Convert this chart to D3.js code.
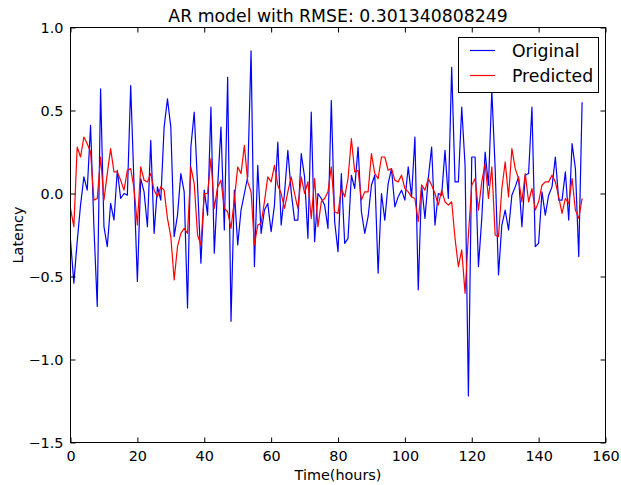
<!DOCTYPE html>
<html>
<head>
<meta charset="utf-8">
<script src="https://cdn.jsdelivr.net/npm/d3@7"></script>
<style>
  html, body { margin: 0; padding: 0; background: #ffffff; }
  svg { display: block; font-family: "DejaVu Sans", sans-serif; }
</style>
</head>
<body>
<svg id="chart" width="621" height="485"></svg>
<script>
// ---- data ----
const titleText = "AR model with RMSE: 0.301340808249";
const xLabel = "Time(hours)";
const yLabel = "Latency";
const seriesNames = ["Original", "Predicted"];
const xTicks = [0, 20, 40, 60, 80, 100, 120, 140, 160];
const yTicks = [1.0, 0.5, 0.0, -0.5, -1.0, -1.5];
const yTickLabels = ["1.0", "0.5", "0.0", "\u22120.5", "\u22121.0", "\u22121.5"];

const original = [
  -0.28, -0.54, -0.29, -0.07, 0.10, 0.02, 0.41, -0.20, -0.68, 0.63,
  -0.20, -0.32, -0.06, -0.16, 0.14, -0.03, 0.00, -0.01, 0.65, 0.05,
  -0.53, 0.09, 0.01, -0.20, 0.32, -0.24, 0.04, -0.04, 0.40, 0.57,
  0.40, -0.26, -0.13, 0.12, 0.01, -0.69, 0.28, 0.49, 0.05, -0.42,
  0.02, -0.13, 0.52, -0.36, 0.04, 0.40, -0.22, 0.70, -0.77, 0.02,
  -0.31, -0.10, 0.00, 0.10, 0.86, -0.44, 0.17, -0.24, -0.10, -0.06,
  -0.23, -0.07, 0.31, -0.19, 0.00, 0.26, 0.01, -0.16, -0.16, 0.24,
  0.10, -0.27, 0.49, -0.29, 0.00, -0.03, -0.07, -0.21, 0.56, -0.17,
  -0.35, 0.12, -0.30, -0.27, 0.11, 0.03, 0.28, -0.11, -0.24, -0.14,
  0.05, 0.11, -0.48, 0.00, -0.16, 0.06, 0.15, -0.08, -0.02, 0.02,
  -0.04, 0.16, -0.02, 0.34, -0.58, 0.05, -0.15, 0.09, 0.28, -0.19,
  0.00, -0.01, 0.26, -0.03, 0.76, 0.07, 0.07, 0.52, 0.17, -1.22,
  0.22, 0.22, -0.44, -0.15, 0.25, 0.05, 0.62, 0.15, -0.49, -0.19,
  -0.10, -0.22, -0.01, 0.04, 0.10, -0.20, 0.11, 0.12, 0.52, -0.32,
  -0.30, 0.01, -0.13, -0.01, 0.04, 0.22, -0.04, -0.04, 0.13, -0.16,
  0.30, 0.15, -0.38, 0.55
];

const predicted = [
  -0.09, -0.20, 0.28, 0.22, 0.34, 0.30, 0.25, -0.04, -0.03, 0.22,
  -0.04, 0.12, 0.27, 0.13, 0.13, 0.08, 0.02, 0.14, 0.15, 0.03,
  -0.19, 0.16, 0.08, 0.07, 0.12, 0.02, -0.02, 0.04, 0.02, -0.15,
  -0.26, -0.52, -0.32, -0.24, -0.21, -0.24, 0.16, 0.06, -0.25, -0.31,
  0.00, 0.00, 0.21, -0.09, 0.04, 0.08, -0.09, -0.11, -0.21, -0.04,
  0.16, 0.12, 0.29, 0.07, 0.01, -0.31, -0.19, -0.18, -0.05, 0.10,
  0.07, 0.17, 0.05, 0.00, -0.09, 0.01, 0.10, 0.00, -0.09, 0.10,
  0.00, 0.07, -0.15, 0.09, -0.20, -0.05, -0.03, 0.01, 0.16, -0.11,
  -0.12, 0.03, -0.02, 0.09, 0.33, 0.13, 0.14, -0.04, 0.01, 0.01,
  0.24, 0.12, 0.09, 0.22, 0.22, 0.14, 0.15, 0.08, 0.07, 0.11,
  0.03, 0.01, -0.02, -0.03, -0.17, 0.05, 0.02, 0.09, 0.05, 0.00,
  -0.07, 0.02, -0.05, -0.07, -0.05, -0.27, -0.44, -0.34, -0.60, -0.25,
  0.05, 0.09, -0.10, 0.07, 0.18, -0.03, 0.16, -0.25, -0.26, 0.03,
  0.19, -0.02, 0.27, 0.15, 0.09, -0.05, 0.12, -0.05, 0.03, -0.10,
  -0.05, 0.05, 0.07, 0.07, 0.11, 0.07, -0.02, -0.12, -0.03, -0.06,
  0.09, -0.10, -0.15, -0.03
];

const colors = ["#0000ff", "#ff0000"];

// ---- layout ----
const W = 621, H = 485;
const plot = { left: 70.5, right: 605.5, top: 27.5, bottom: 442.5 };

const svg = d3.select("#chart");
const x = d3.scaleLinear().domain([0, 160]).range([plot.left, plot.right]);
const y = d3.scaleLinear().domain([-1.5, 1.0]).range([plot.bottom, plot.top]);

svg.append("defs").append("clipPath").attr("id", "clip")
  .append("rect")
  .attr("x", plot.left).attr("y", plot.top)
  .attr("width", plot.right - plot.left).attr("height", plot.bottom - plot.top);

svg.append("rect").attr("x", 0).attr("y", 0).attr("width", W).attr("height", H).attr("fill", "#ffffff");

// lines
const line = d3.line().x((d, i) => x(i)).y(d => y(d));
const g = svg.append("g").attr("clip-path", "url(#clip)");
[original, predicted].forEach((s, k) => {
  g.append("path").datum(s)
    .attr("fill", "none")
    .attr("stroke", colors[k])
    .attr("stroke-width", 1.2)
    .attr("stroke-linejoin", "round")
    .attr("d", line);
});

// axes (ticks inward on all four sides)
const tickLen = 5;
const fmtY = d => yTickLabels[yTicks.indexOf(d)];
const axB = svg.append("g").attr("transform", `translate(0,${plot.bottom})`)
  .call(d3.axisBottom(x).tickValues(xTicks).tickSize(-tickLen).tickPadding(8).tickFormat(d3.format("d")));
const axT = svg.append("g").attr("transform", `translate(0,${plot.top})`)
  .call(d3.axisTop(x).tickValues(xTicks).tickSize(-tickLen).tickFormat(""));
const axL = svg.append("g").attr("transform", `translate(${plot.left},0)`)
  .call(d3.axisLeft(y).tickValues(yTicks).tickSize(-tickLen).tickPadding(7).tickFormat(fmtY));
const axR = svg.append("g").attr("transform", `translate(${plot.right},0)`)
  .call(d3.axisRight(y).tickValues(yTicks).tickSize(-tickLen).tickFormat(""));

[axB, axT, axL, axR].forEach(a => {
  a.select(".domain").remove();
  a.selectAll(".tick line").attr("stroke", "#000").attr("stroke-width", 1);
  a.selectAll(".tick text").attr("fill", "#000")
    .style("font-family", "DejaVu Sans, sans-serif").style("font-size", "14.4px");
});

// frame
svg.append("rect")
  .attr("x", plot.left).attr("y", plot.top)
  .attr("width", plot.right - plot.left).attr("height", plot.bottom - plot.top)
  .attr("fill", "none").attr("stroke", "#000").attr("stroke-width", 1);

// title
svg.append("text").attr("x", (plot.left + plot.right) / 2).attr("y", 22)
  .attr("text-anchor", "middle").style("font-size", "17.3px").attr("fill", "#000")
  .text(titleText);

// axis labels
svg.append("text").attr("x", (plot.left + plot.right) / 2).attr("y", 480)
  .attr("text-anchor", "middle").style("font-size", "14.4px").attr("fill", "#000")
  .text(xLabel);
svg.append("text")
  .attr("transform", `translate(23,${(plot.top + plot.bottom) / 2}) rotate(-90)`)
  .attr("text-anchor", "middle").style("font-size", "14.4px").attr("fill", "#000")
  .text(yLabel);

// legend
const lg = svg.append("g");
lg.append("rect").attr("x", 458.5).attr("y", 37.5).attr("width", 140).attr("height", 55)
  .attr("fill", "#fff").attr("stroke", "#000").attr("stroke-width", 1);
seriesNames.forEach((name, k) => {
  const yy = 50.5 + k * 25;
  lg.append("line").attr("x1", 470).attr("x2", 495).attr("y1", yy).attr("y2", yy)
    .attr("stroke", colors[k]).attr("stroke-width", 1.2);
  lg.append("text").attr("x", 512).attr("y", yy + 6).style("font-size", "17.3px")
    .attr("fill", "#000").text(name);
});
</script>
</body>
</html>
